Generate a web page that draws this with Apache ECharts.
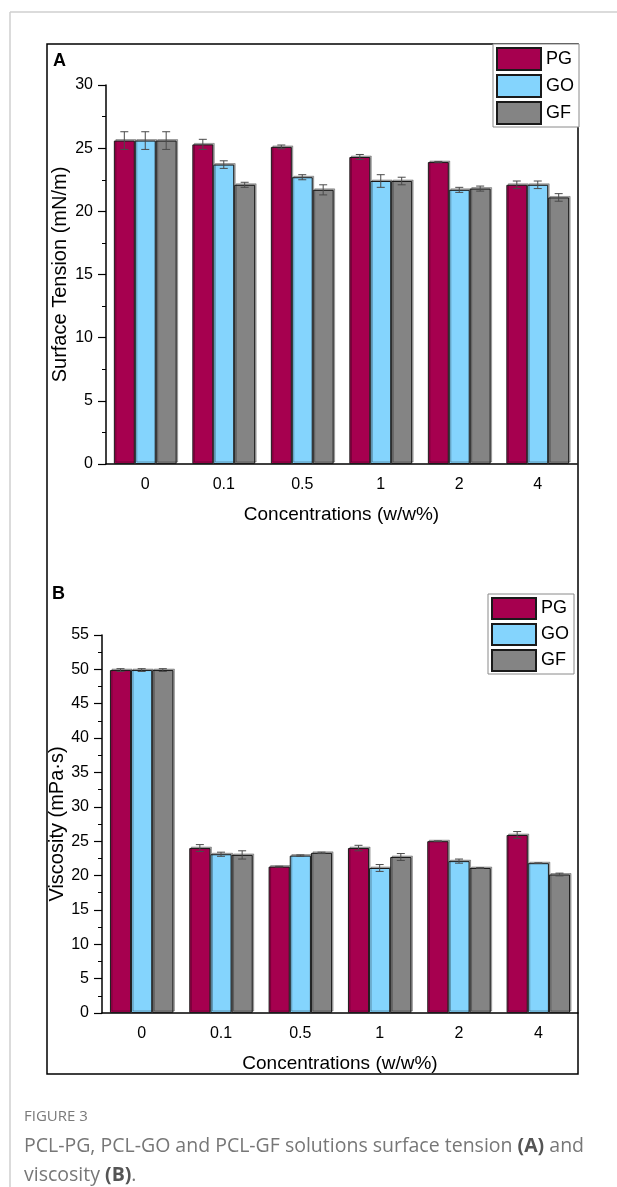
<!DOCTYPE html>
<html>
<head>
<meta charset="utf-8">
<script src="https://cdn.jsdelivr.net/npm/echarts@6/dist/echarts.min.js"></script>
<style>
html, body { margin: 0; padding: 0; background: #fff; }
#chart { width: 617px; height: 1187px; }
</style>
</head>
<body>
<div id="chart"></div>
<script>
const categories = ['0', '0.1', '0.5', '1', '2', '4'];
const seriesNames = ['PG', 'GO', 'GF'];
const colors = ['#A6004F', '#84D4FD', '#848484'];

// (A) surface tension, mN/m
const tensionPG = [25.6, 25.3, 25.1, 24.3, 23.9, 22.1];
const tensionGO = [25.6, 23.7, 22.7, 22.4, 21.7, 22.1];
const tensionGF = [25.6, 22.1, 21.7, 22.4, 21.8, 21.1];
const tensionErrPG = [0.7, 0.4, 0.15, 0.2, 0.05, 0.3];
const tensionErrGO = [0.7, 0.3, 0.2, 0.5, 0.2, 0.3];
const tensionErrGF = [0.7, 0.2, 0.4, 0.3, 0.2, 0.3];

// (B) viscosity, mPa·s
const viscPG = [49.9, 24.0, 21.3, 24.0, 25.0, 25.9];
const viscGO = [49.9, 23.1, 22.9, 21.1, 22.1, 21.8];
const viscGF = [49.9, 23.0, 23.3, 22.7, 21.1, 20.15];
const viscErrPG = [0.2, 0.5, 0.05, 0.4, 0.05, 0.5];
const viscErrGO = [0.2, 0.3, 0.1, 0.5, 0.3, 0.05];
const viscErrGF = [0.2, 0.6, 0.1, 0.5, 0.05, 0.2];

const FONT = 'Liberation Sans, Arial, sans-serif';
const GAP = 0.2;

const myChart = echarts.init(document.getElementById('chart'));

function errorBar(pos) {
    return function (params, api) {
        const i = api.value(0);
        const v = api.value(1);
        const e = api.value(2);
        const band = api.size([1, 0])[0];
        const bw = band * (1 - GAP) / 3;
        const x = api.coord([i, v])[0] + (pos - 1) * bw;
        const top = api.coord([i, v + e])[1];
        const bot = api.coord([i, v - e])[1];
        const style = { stroke: '#4a4a4a', lineWidth: 1 };
        return {
            type: 'group',
            children: [
                { type: 'line', shape: { x1: x, y1: top, x2: x, y2: bot }, style: style },
                { type: 'line', shape: { x1: x - 4, y1: top, x2: x + 4, y2: top }, style: style },
                { type: 'line', shape: { x1: x - 4, y1: bot, x2: x + 4, y2: bot }, style: style }
            ]
        };
    };
}

function barSeries(name, idx, values, xi, yi) {
    return {
        name: name,
        type: 'bar',
        xAxisIndex: xi,
        yAxisIndex: yi,
        data: values,
        barGap: '0%',
        barCategoryGap: (GAP * 100) + '%',
        itemStyle: {
            color: colors[idx],
            borderColor: '#1a1a1a',
            borderWidth: 1,
            shadowColor: 'rgba(0,0,0,0.3)',
            shadowOffsetX: 1.5,
            shadowOffsetY: -1.5
        },
        z: 2
    };
}

function errSeries(idx, values, errs, xi, yi) {
    return {
        type: 'custom',
        xAxisIndex: xi,
        yAxisIndex: yi,
        renderItem: errorBar(idx),
        data: values.map((v, i) => [i, v, errs[i]]),
        z: 5,
        silent: true
    };
}

function catAxes(grid) {
    return [{
        type: 'category',
        gridIndex: grid,
        data: categories,
        axisLine: { lineStyle: { color: '#000', width: 1.5 } },
        axisTick: { alignWithLabel: true, length: 6, lineStyle: { color: '#000', width: 1.2 } },
        axisLabel: { color: '#000', fontSize: 16, fontFamily: FONT, margin: 13 },
        name: 'Concentrations (w/w%)',
        nameLocation: 'middle',
        nameGap: 41,
        nameMoveOverlap: false,
        nameTextStyle: { color: '#000', fontSize: 19, fontFamily: FONT }
    }, {
        type: 'category',
        gridIndex: grid,
        data: categories,
        axisLine: { show: false },
        axisTick: { length: 4, lineStyle: { color: '#000', width: 1.2 } },
        axisLabel: { show: false }
    }];
}

function valAxis(grid, max, name, gap) {
    return {
        type: 'value',
        gridIndex: grid,
        min: 0,
        max: max,
        interval: 5,
        axisLine: { show: true, lineStyle: { color: '#000', width: 1.5 } },
        axisTick: { show: true, length: 8, lineStyle: { color: '#000', width: 1.2 } },
        minorTick: { show: true, splitNumber: 2, length: 4, lineStyle: { color: '#000', width: 1 } },
        splitLine: { show: false },
        axisLabel: { color: '#000', fontSize: 16, fontFamily: FONT, margin: 13 },
        name: name,
        nameLocation: 'middle',
        nameGap: gap,
        nameMoveOverlap: false,
        nameTextStyle: { color: '#000', fontSize: 20, fontFamily: FONT }
    };
}

function legendAt(left, top, itemH) {
    return {
        orient: 'vertical',
        left: left,
        top: top,
        data: seriesNames,
        icon: 'rect',
        itemWidth: 44,
        itemHeight: itemH,
        itemGap: 3,
        padding: [3, 5, 2, 3],
        borderColor: '#8a8a8a',
        borderWidth: 1,
        backgroundColor: '#fff',
        selectedMode: false,
        textStyle: { color: '#000', fontSize: 18, fontFamily: FONT }
    };
}

const option = {
    animation: false,
    grid: [
        { left: 106, top: 85, width: 471, height: 379 },
        { left: 102, top: 635, width: 476, height: 378 }
    ],
    xAxis: [...catAxes(0), ...catAxes(1)],
    yAxis: [
        valAxis(0, 30, 'Surface Tension (mN/m)', 36),
        valAxis(1, 55, 'Viscosity (mPa·s)', 35)
    ],
    legend: [legendAt(493, 44, 22), legendAt(488, 594, 21)],
    series: [
        barSeries('PG', 0, tensionPG, 0, 0),
        barSeries('GO', 1, tensionGO, 0, 0),
        barSeries('GF', 2, tensionGF, 0, 0),
        errSeries(0, tensionPG, tensionErrPG, 0, 0),
        errSeries(1, tensionGO, tensionErrGO, 0, 0),
        errSeries(2, tensionGF, tensionErrGF, 0, 0),
        barSeries('PG', 0, viscPG, 2, 1),
        barSeries('GO', 1, viscGO, 2, 1),
        barSeries('GF', 2, viscGF, 2, 1),
        errSeries(0, viscPG, viscErrPG, 2, 1),
        errSeries(1, viscGO, viscErrGO, 2, 1),
        errSeries(2, viscGF, viscErrGF, 2, 1)
    ],
    graphic: [
        // page card edges
        { type: 'line', shape: { x1: 10, y1: 12, x2: 10, y2: 1187 }, style: { stroke: '#cfcfcf', lineWidth: 1.5 } },
        { type: 'line', shape: { x1: 10, y1: 12, x2: 617, y2: 12 }, style: { stroke: '#cfcfcf', lineWidth: 1.5 } },
        // figure frame
        { type: 'rect', shape: { x: 47, y: 44, width: 531, height: 1030 }, style: { fill: 'none', stroke: '#000', lineWidth: 1.5 }, z: 0 },
        { type: 'text', left: 53, top: 52, style: { text: 'A', font: 'bold 18px ' + FONT, fill: '#000' } },
        { type: 'text', left: 52, top: 585, style: { text: 'B', font: 'bold 18px ' + FONT, fill: '#000' } },
        // caption
        { type: 'text', left: 24, top: 1109, style: { text: 'FIGURE 3', font: '15px Open Sans, sans-serif', fill: '#7a7a7a' } },
        {
            type: 'text', left: 24, top: 1136,
            style: {
                text: '{n|PCL-PG, PCL-GO and PCL-GF solutions surface tension }{b|(A)}{n| and}\n{n|viscosity }{b|(B)}{n|.}',
                rich: {
                    n: { font: '19.5px Open Sans, sans-serif', fill: '#777', lineHeight: 29 },
                    b: { font: 'bold 19.5px Open Sans, sans-serif', fill: '#555', lineHeight: 29 }
                }
            }
        }
    ]
};

myChart.setOption(option);

window.addEventListener('resize', () => {
    myChart.resize();
});
</script>
</body>
</html>
